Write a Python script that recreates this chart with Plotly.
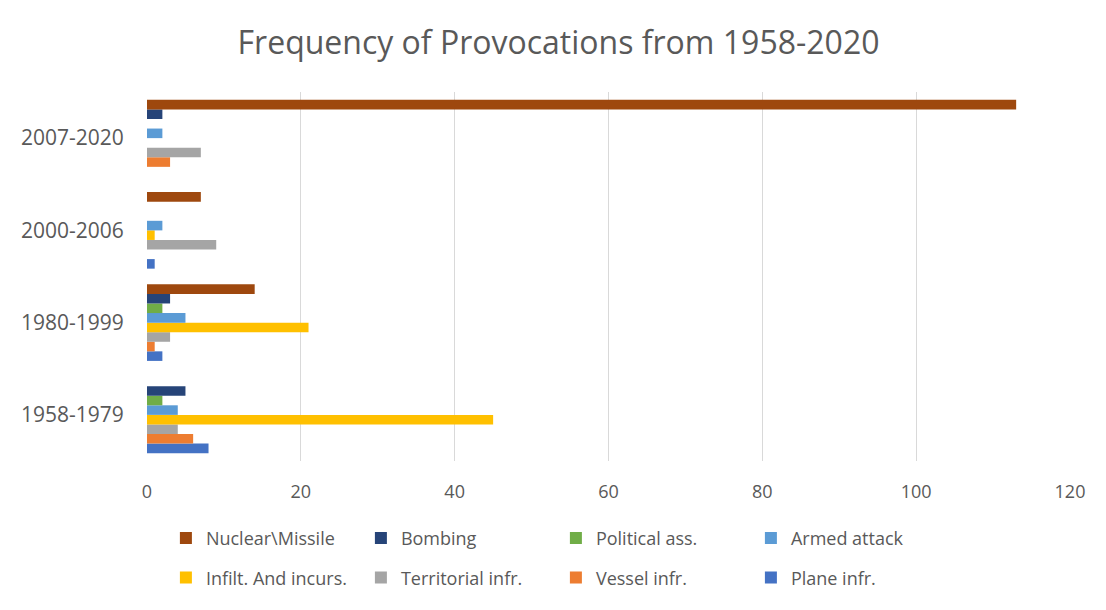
import plotly.graph_objects as go

categories = ["1958-1979", "1980-1999", "2000-2006", "2007-2020"]

plane_infr = [8, 2, 1, 0]
vessel_infr = [6, 1, 0, 3]
territorial_infr = [4, 3, 9, 7]
infilt_incurs = [45, 21, 1, 0]
armed_attack = [4, 5, 2, 2]
political_ass = [2, 2, 0, 0]
bombing = [5, 3, 0, 2]
nuclear_missile = [0, 14, 7, 113]

series = [
    ("Plane infr.", plane_infr, "#4472C4", "legend2"),
    ("Vessel infr.", vessel_infr, "#ED7D31", "legend2"),
    ("Territorial infr.", territorial_infr, "#A5A5A5", "legend2"),
    ("Infilt. And incurs.", infilt_incurs, "#FFC000", "legend2"),
    ("Armed attack", armed_attack, "#5B9BD5", "legend"),
    ("Political ass.", political_ass, "#70AD47", "legend"),
    ("Bombing", bombing, "#264478", "legend"),
    ("Nuclear\\Missile", nuclear_missile, "#9E480E", "legend"),
]

fig = go.Figure()
for name, vals, color, leg in series:
    fig.add_trace(go.Bar(
        y=categories, x=vals, name=name, orientation="h", legend=leg,
        marker=dict(color=color, line=dict(width=0)),
    ))

font_family = "Open Sans, Noto Sans, sans-serif"
grey = "#595959"
legend_common = dict(orientation="h", traceorder="reversed",
                     xref="container", yref="container",
                     x=0.150, xanchor="left", yanchor="top",
                     entrywidth=150, entrywidthmode="pixels",
                     font=dict(family=font_family, size=18, color=grey),
                     itemwidth=30, bgcolor="rgba(0,0,0,0)")

fig.update_layout(
    width=1106, height=610,
    margin=dict(l=147, r=36, t=92, b=149),
    paper_bgcolor="white", plot_bgcolor="white",
    barmode="group", bargap=0.17, bargroupgap=0,
    title=dict(text="Frequency of Provocations from 1958-2020",
               x=0.505, xanchor="center", y=0.93, yanchor="middle",
               font=dict(family=font_family, size=32, color=grey)),
    xaxis=dict(range=[0, 120], dtick=20, showgrid=True, gridcolor="#D9D9D9",
               gridwidth=1, zeroline=False, showline=False,
               tickfont=dict(family=font_family, size=18, color=grey),
               ticks="", ticklabelstandoff=18),
    yaxis=dict(showgrid=False, zeroline=False, showline=False,
               tickfont=dict(family=font_family, size=21, color=grey),
               ticks="outside", ticklen=18, tickcolor="rgba(0,0,0,0)"),
    legend=dict(y=0.148, **legend_common),
    legend2=dict(y=0.083, **legend_common),
    font=dict(family=font_family),
)

fig.write_html("out.html")
